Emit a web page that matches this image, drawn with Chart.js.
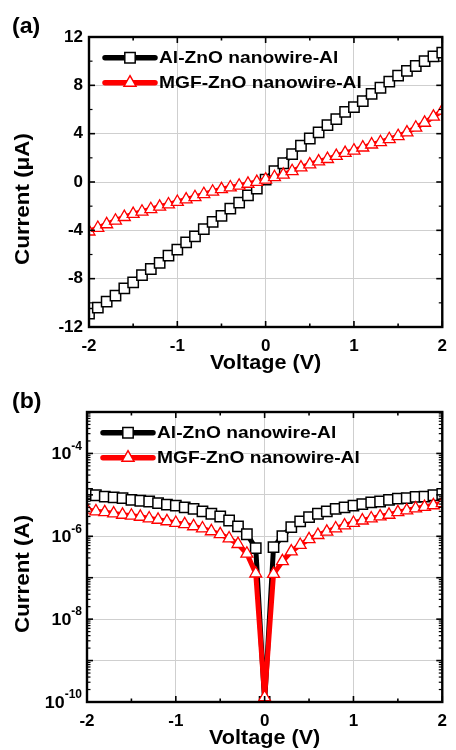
<!DOCTYPE html>
<html>
<head>
<meta charset="utf-8">
<title>I-V curves</title>
<script src="https://cdn.jsdelivr.net/npm/chart.js@4.4.1/dist/chart.umd.min.js"></script>
<style>
    html, body { margin: 0; padding: 0; background: #fff; }
    #wrap { position: relative; width: 456px; height: 750px; }
    .panel { position: absolute; left: 0; width: 456px; height: 375px; }
</style>
</head>
<body>
<div id="wrap">
    <div class="panel" style="top:0"><canvas id="chartA" width="456" height="375"></canvas></div>
    <div class="panel" style="top:375px"><canvas id="chartB" width="456" height="375"></canvas></div>
</div>
<script>
// ============================================================
// DATA
// ============================================================
const voltage = [-2, -1.9, -1.8, -1.7, -1.6, -1.5, -1.4, -1.3, -1.2, -1.1,
    -1, -0.9, -0.8, -0.7, -0.6, -0.5, -0.4, -0.3, -0.2, -0.1,
    0, 0.1, 0.2, 0.3, 0.4, 0.5, 0.6, 0.7, 0.8, 0.9,
    1, 1.1, 1.2, 1.3, 1.4, 1.5, 1.6, 1.7, 1.8, 1.9, 2];

const seriesNames = ['Al-ZnO nanowire-Al', 'MGF-ZnO nanowire-Al'];

// (a) current in uA
const alLinear = [-10.9, -10.4, -9.9, -9.4, -8.8, -8.3, -7.7, -7.2, -6.7, -6.1,
    -5.6, -5.0, -4.5, -3.9, -3.3, -2.8, -2.2, -1.7, -1.1, -0.55,
    0.2, 0.9, 1.55, 2.3, 3.0, 3.6, 4.1, 4.7, 5.2, 5.8,
    6.2, 6.7, 7.3, 7.8, 8.3, 8.8, 9.2, 9.6, 10.0, 10.4, 10.7];
const mgfLinear = [-4.1, -3.8, -3.5, -3.2, -2.9, -2.65, -2.45, -2.25, -2.05, -1.85,
    -1.65, -1.45, -1.25, -1.0, -0.8, -0.6, -0.45, -0.3, -0.15, 0.0,
    0.2, 0.4, 0.6, 0.9, 1.2, 1.45, 1.7, 1.9, 2.15, 2.4,
    2.6, 2.85, 3.1, 3.3, 3.55, 3.8, 4.1, 4.5, 4.9, 5.4, 5.9];

// (b) |current| in A
const alLog = [1.05e-5, 9.8e-6, 9.1e-6, 8.7e-6, 8.3e-6, 7.6e-6, 7.2e-6, 6.9e-6, 6.3e-6, 5.8e-6,
    5.5e-6, 5.0e-6, 4.6e-6, 4.0e-6, 3.5e-6, 3.0e-6, 2.4e-6, 1.74e-6, 1.12e-6, 5.2e-7,
    1.0e-10, 5.5e-7, 1.0e-6, 1.66e-6, 2.3e-6, 2.9e-6, 3.5e-6, 4.0e-6, 4.6e-6, 5.0e-6,
    5.5e-6, 6.0e-6, 6.6e-6, 6.9e-6, 7.6e-6, 8.1e-6, 8.3e-6, 8.9e-6, 9.1e-6, 9.8e-6, 1.05e-5];
const mgfLog = [4.4e-6, 4.0e-6, 3.8e-6, 3.55e-6, 3.3e-6, 3.15e-6, 2.95e-6, 2.7e-6, 2.5e-6, 2.3e-6,
    2.1e-6, 1.95e-6, 1.74e-6, 1.55e-6, 1.32e-6, 1.12e-6, 8.9e-7, 6.5e-7, 3.8e-7, 1.26e-7,
    1.3e-10, 1.23e-7, 2.5e-7, 4.3e-7, 6.2e-7, 8.5e-7, 1.07e-6, 1.29e-6, 1.55e-6, 1.82e-6,
    2.1e-6, 2.4e-6, 2.7e-6, 3.0e-6, 3.3e-6, 3.8e-6, 4.2e-6, 4.7e-6, 5.1e-6, 5.6e-6, 6.3e-6];

// tick values
const xMajor = [-2, -1, 0, 1, 2];
const xMinor = [-1.5, -0.5, 0.5, 1.5];
const yMajorA = [-12, -8, -4, 0, 4, 8, 12];
const yMinorA = [-10, -6, -2, 2, 6, 10];
const logDecades = [-10, -9, -8, -7, -6, -5, -4, -3];
const logLabelExp = [-4, -6, -8, -10];

// ============================================================
// HELPERS
// ============================================================
const FONT = '"Liberation Sans", Arial, Helvetica, sans-serif';
const BLACK = '#000000';
const RED = '#ff0000';

function text(ctx, str, x, y, size, sx, align, rot) {
    ctx.save();
    ctx.font = 'bold ' + size + 'px ' + FONT;
    ctx.fillStyle = BLACK;
    ctx.translate(x, y);
    if (rot) ctx.rotate(rot);
    ctx.scale(sx, 1);
    ctx.textAlign = align || 'left';
    ctx.textBaseline = 'middle';
    ctx.fillText(str, 0, 0);
    ctx.restore();
}

function marker(ctx, style, x, y, color) {
    ctx.save();
    ctx.fillStyle = '#fff';
    ctx.strokeStyle = color;
    ctx.lineWidth = 1.5;
    ctx.beginPath();
    if (style === 'rect') {
        ctx.rect(x - 5.2, y - 5.2, 10.4, 10.4);
    } else {
        ctx.moveTo(x, y - 7);
        ctx.lineTo(x + 6, y + 3.5);
        ctx.lineTo(x - 6, y + 3.5);
        ctx.closePath();
    }
    ctx.fill();
    ctx.stroke();
    ctx.restore();
}

function makeSeries(values, i) {
    const isAl = i === 0;
    return {
        label: seriesNames[i],
        data: voltage.map(function(v, k) { return { x: v, y: values[k] }; }),
        borderColor: isAl ? BLACK : RED,
        borderWidth: 5,
        pointStyle: isAl ? 'rect' : 'triangle',
        pointRadius: isAl ? 7.3 : 6.9,
        pointBackgroundColor: '#fff',
        pointBorderColor: isAl ? BLACK : RED,
        pointBorderWidth: isAl ? 1.5 : 1.3,
        order: isAl ? 1 : 0,
        clip: 0
    };
}

// frame, inward ticks, legend, titles
function decorPlugin(cfg) {
    return {
        id: 'decor',
        afterDatasetsDraw: function(chart) {
            const ctx = chart.ctx;
            const a = chart.chartArea;
            const xs = chart.scales.x;
            const ys = chart.scales.y;

            ctx.save();
            ctx.strokeStyle = BLACK;
            ctx.lineWidth = 1.6;
            function seg(x1, y1, x2, y2) {
                ctx.beginPath(); ctx.moveTo(x1, y1); ctx.lineTo(x2, y2); ctx.stroke();
            }
            xMajor.forEach(function(v) {
                const p = xs.getPixelForValue(v);
                seg(p, a.bottom, p, a.bottom - 6); seg(p, a.top, p, a.top + 6);
            });
            xMinor.forEach(function(v) {
                const p = xs.getPixelForValue(v);
                seg(p, a.bottom, p, a.bottom - 3.5); seg(p, a.top, p, a.top + 3.5);
            });
            cfg.yMajor.forEach(function(v) {
                const p = ys.getPixelForValue(v);
                seg(a.left, p, a.left + 6, p); seg(a.right, p, a.right - 6, p);
            });
            ctx.lineWidth = 1.2;
            cfg.yMinor.forEach(function(v) {
                const p = ys.getPixelForValue(v);
                seg(a.left, p, a.left + 3.5, p); seg(a.right, p, a.right - 3.5, p);
            });
            ctx.lineWidth = 2.4;
            ctx.strokeRect(a.left, a.top, a.right - a.left, a.bottom - a.top);
            ctx.restore();

            // log tick labels with superscripts
            if (cfg.logLabels) {
                logLabelExp.forEach(function(e) {
                    const p = ys.getPixelForValue(Math.pow(10, e));
                    ctx.save();
                    ctx.font = 'bold 12px ' + FONT;
                    const sup = String(e);
                    const wSup = ctx.measureText(sup).width;
                    ctx.restore();
                    text(ctx, sup, a.left - 5, p - 7, 12, 1, 'right');
                    text(ctx, '10', a.left - 5 - wSup, p + 1, 17, 1.05, 'right');
                });
            }

            // legend
            const styles = ['rect', 'triangle'];
            const colors = [BLACK, RED];
            const ly = [57.7, 82.7];
            seriesNames.forEach(function(name, i) {
                ctx.save();
                ctx.strokeStyle = colors[i];
                ctx.lineWidth = 5.5;
                ctx.lineCap = 'round';
                seg(cfg.legX, ly[i], cfg.legX + 50, ly[i]);
                ctx.restore();
                marker(ctx, styles[i], cfg.legX + 25, ly[i], colors[i]);
                text(ctx, name, cfg.legX + 54, ly[i] + 1, 17, 1.13, 'left');
            });

            // titles
            text(ctx, cfg.panel, 12, 27, 22, 1.05, 'left');
            text(ctx, 'Voltage (V)', (a.left + a.right) / 2, a.bottom + 36, 20, 1.08, 'center');
            text(ctx, cfg.yTitle, 23, (a.top + a.bottom) / 2 + 17, 20, 1.12, 'center', -Math.PI / 2);
        }
    };
}

function baseOptions(leftWidth, rightPad, yScale) {
    return {
        responsive: false,
        devicePixelRatio: 1,
        animation: false,
        layout: { padding: { top: 37, right: rightPad, left: 0, bottom: 0 } },
        plugins: { legend: { display: false }, tooltip: { enabled: false } },
        scales: {
            x: {
                type: 'linear', min: -2, max: 2,
                ticks: { stepSize: 1, padding: 9, color: BLACK, font: { family: FONT, size: 17, weight: 'bold' } },
                grid: { color: '#cfcfcf', lineWidth: 1, drawTicks: false },
                border: { display: false },
                afterFit: function(s) { s.height = 48; }
            },
            y: Object.assign({
                grid: { color: '#cfcfcf', lineWidth: 1, drawTicks: false },
                border: { display: false },
                afterFit: function(s) { s.width = leftWidth; }
            }, yScale)
        }
    };
}

// ============================================================
// (a) LINEAR
// ============================================================
new Chart(document.getElementById('chartA'), {
    type: 'line',
    data: { datasets: [makeSeries(alLinear, 0), makeSeries(mgfLinear, 1)] },
    options: baseOptions(89, 6, {
        type: 'linear', min: -12, max: 12,
        ticks: { stepSize: 4, padding: 6, color: BLACK, font: { family: FONT, size: 17, weight: 'bold' } }
    }),
    plugins: [decorPlugin({
        panel: '(a)', yTitle: 'Current (\u03BCA)', legX: 105,
        yMajor: yMajorA, yMinor: yMinorA, logLabels: false
    })]
});

// ============================================================
// (b) LOG
// ============================================================
const logMajor = logDecades.map(function(e) { return Math.pow(10, e); });
const logMinor = [];
logDecades.slice(0, -1).forEach(function(e) {
    [2, 3, 4, 5, 6, 7, 8, 9].forEach(function(k) { logMinor.push(k * Math.pow(10, e)); });
});

new Chart(document.getElementById('chartB'), {
    type: 'line',
    data: { datasets: [makeSeries(alLog, 0), makeSeries(mgfLog, 1)] },
    options: baseOptions(87, 8, {
        type: 'logarithmic', min: 1e-10, max: 1e-3,
        ticks: { display: false },
        afterBuildTicks: function(s) { s.ticks = logMajor.map(function(v) { return { value: v }; }); }
    }),
    plugins: [decorPlugin({
        panel: '(b)', yTitle: 'Current (A)', legX: 103,
        yMajor: logMajor, yMinor: logMinor, logLabels: true
    })]
});
</script>
</body>
</html>
